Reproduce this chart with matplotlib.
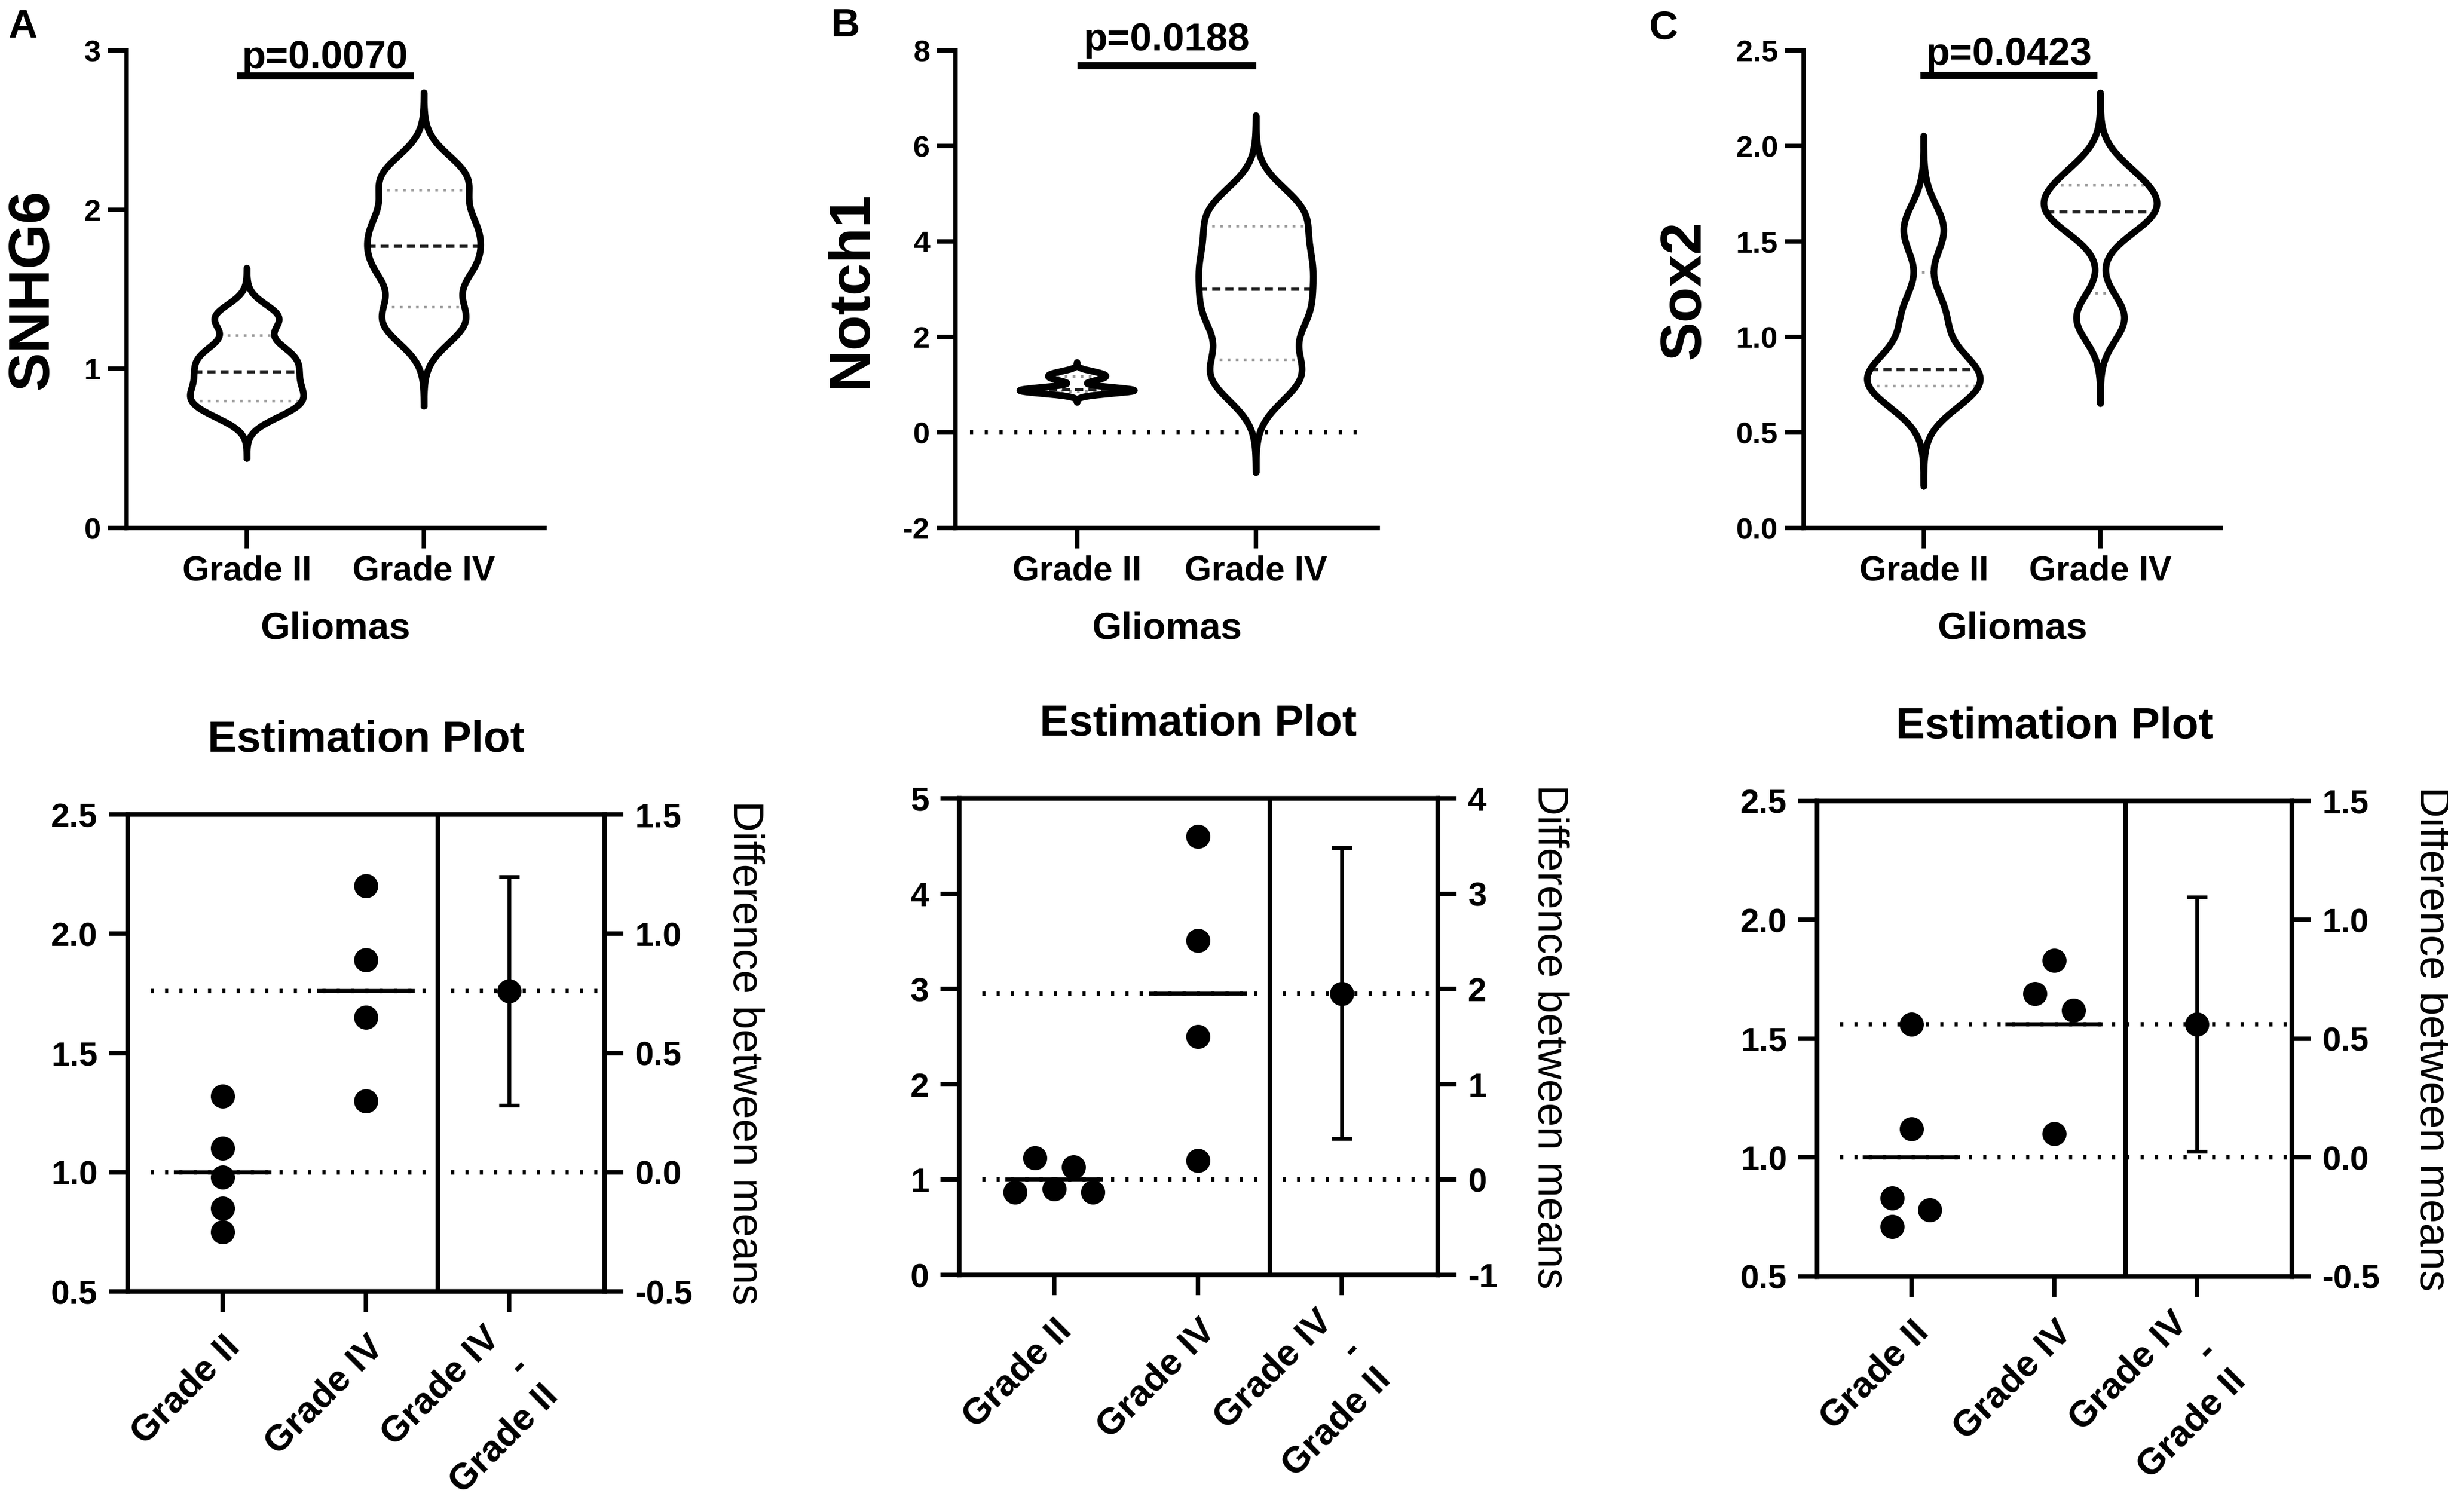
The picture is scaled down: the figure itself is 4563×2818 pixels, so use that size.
import numpy as np
import matplotlib
matplotlib.use("Agg")
import matplotlib.pyplot as plt
from matplotlib import mlab
from matplotlib.ticker import FormatStrFormatter

plt.rcParams['font.family'] = ['Liberation Sans', 'DejaVu Sans']
plt.rcParams['axes.unicode_minus'] = False

GROUPS = ["Grade II", "Grade IV"]
DIFF_LABEL = "Grade IV\n-\nGrade II"
X_TITLE = "Gliomas"
EST_TITLE = "Estimation Plot"
DIFF_TITLE = "Difference between means"
GENES = ["SNHG6", "Notch1", "Sox2"]
P_TEXT = ["p=0.0070", "p=0.0188", "p=0.0423"]
TAGS = ["A", "B", "C"]

# relative expression per sample
snhg6_ii = [1.32, 1.10, 0.98, 0.85, 0.75]
snhg6_iv = [2.20, 1.89, 1.65, 1.30]
notch1_ii = [0.87, 1.23, 0.90, 1.13, 0.87]
notch1_iv = [4.60, 3.51, 2.50, 1.20]
sox2_ii = [1.56, 1.12, 0.83, 0.78, 0.71]
sox2_iv = [1.83, 1.69, 1.62, 1.10]

# 95% CI of the difference between means
ci_low = [0.28, 0.43, 0.025]
ci_high = [1.24, 3.48, 1.095]

violin_yticks = [[0, 1, 2, 3], [-2, 0, 2, 4, 6, 8], [0, 0.5, 1.0, 1.5, 2.0, 2.5]]
est_yticks = [[0.5, 1.0, 1.5, 2.0, 2.5], [0, 1, 2, 3, 4, 5], [0.5, 1.0, 1.5, 2.0, 2.5]]
diff_yticks = [[-0.5, 0, 0.5, 1.0, 1.5], [-1, 0, 1, 2, 3, 4], [-0.5, 0, 0.5, 1.0, 1.5]]
top_fmt = ["%.0f", "%.0f", "%.1f"]
bottom_fmt = ["%.1f", "%.0f", "%.1f"]

# horizontal spread of overlapping points (scatter layout)
spread_ii = [[0, 0, 0, 0, 0], [-0.27, -0.135, 0, 0.135, 0.27], [0, 0, -0.133, 0.13, -0.133]]
spread_iv = [[0, 0, 0, 0], [0, 0, 0, 0], [0, -0.136, 0.136, 0]]

data_ii = [snhg6_ii, notch1_ii, sox2_ii]
data_iv = [snhg6_iv, notch1_iv, sox2_iv]

# layout (figure fractions)
top_x = [(0.0517, 0.1707), (0.3903, 0.1725), (0.7368, 0.1703)]
TOP_Y = (0.6508, 0.3158)
bottom_rect = [(0.0522, 0.1458, 0.1948, 0.3155),
               (0.3918, 0.1568, 0.1955, 0.3152),
               (0.7423, 0.1558, 0.1939, 0.3144)]
tag_pos = [(0.0033, 0.975), (0.3395, 0.9759), (0.6737, 0.9744)]
bar_span = [(-0.06, 0.94), (0.0, 1.0), (-0.02, 0.98)]
bar_y = [0.947, 0.969, 0.948]
ptext_y = [0.963, 1.0, 0.970]

BW = 0.38
CUT = 3.7
HALF_W = 0.32
LW_AX = 2.0


def draw_violin(ax, values, pos):
    values = np.asarray(values, dtype=float)
    kde = mlab.GaussianKDE(values, bw_method=BW)
    h = kde.factor * values.std(ddof=1)
    ys = np.linspace(values.min() - CUT * h, values.max() + CUT * h, 600)
    dens = kde.evaluate(ys)
    w = dens / dens.max() * HALF_W
    ax.fill_betweenx(ys, pos - w, pos + w, color="white", lw=0, zorder=2)
    q1, med, q3 = np.percentile(values, [25, 50, 75], method="weibull")
    for q, col, ls, lw in [(q1, "#9a9a9a", (0, (1, 2)), 1.2),
                           (q3, "#9a9a9a", (0, (1, 2)), 1.2),
                           (med, "#222222", (0, (2.6, 1.6)), 1.4)]:
        hw = np.interp(q, ys, w)
        ax.plot([pos - hw, pos + hw], [q, q], color=col, ls=ls, lw=lw, zorder=3)
    ox = np.concatenate([pos + w, (pos - w)[::-1], [pos + w[0]]])
    oy = np.concatenate([ys, ys[::-1], [ys[0]]])
    ax.plot(ox, oy, color="black", lw=3.0, solid_joinstyle="round",
            solid_capstyle="round", zorder=4)


fig = plt.figure(figsize=(4563 / 300, 2818 / 300), dpi=300)

for i in range(3):
    # ---- violin panel
    ax = fig.add_axes([top_x[i][0], TOP_Y[0], top_x[i][1], TOP_Y[1]])
    draw_violin(ax, data_ii[i], 0)
    draw_violin(ax, data_iv[i], 1)
    yt = violin_yticks[i]
    ax.set_ylim(yt[0], yt[-1])
    ax.set_xlim(-0.68, 1.68)
    if yt[0] < 0:
        ax.hlines(0, -0.6, 1.62, colors="black", lw=2.0,
                  linestyles=(0, (0.7, 2.6)), zorder=1)
    ax.set_yticks(yt)
    ax.yaxis.set_major_formatter(FormatStrFormatter(top_fmt[i]))
    ax.set_xticks([0, 1])
    ax.set_xticklabels(GROUPS)
    for s in ["top", "right"]:
        ax.spines[s].set_visible(False)
    for s in ["left", "bottom"]:
        ax.spines[s].set_linewidth(LW_AX)
    ax.tick_params(axis="y", direction="out", length=8.5, width=LW_AX, pad=3,
                   labelsize=13.5)
    ax.tick_params(axis="x", direction="out", length=9, width=LW_AX, pad=3,
                   labelsize=15.5)
    for t in ax.get_xticklabels() + ax.get_yticklabels():
        t.set_fontweight("bold")
    ax.set_ylabel(GENES[i], fontsize=26, fontweight="bold", labelpad=11)
    ax.set_xlabel(X_TITLE, fontsize=17, fontweight="bold", labelpad=11)

    tr = ax.get_xaxis_transform()
    ax.plot(bar_span[i], [bar_y[i], bar_y[i]], color="black", lw=3.2,
            solid_capstyle="butt", transform=tr, clip_on=False)
    ax.text(sum(bar_span[i]) / 2, ptext_y[i], P_TEXT[i], transform=tr,
            ha="center", va="baseline", fontsize=17.5, fontweight="bold")
    fig.text(tag_pos[i][0], tag_pos[i][1], TAGS[i], fontsize=18,
             fontweight="bold", ha="left", va="baseline")

    # ---- estimation panel
    ex = fig.add_axes(bottom_rect[i])
    tw = ex.twinx()
    ii = np.asarray(data_ii[i])
    iv = np.asarray(data_iv[i])
    m_ii, m_iv = ii.mean(), iv.mean()
    diff = m_iv - m_ii

    ex.set_xlim(-0.66, 2.665)
    ex.set_ylim(est_yticks[i][0], est_yticks[i][-1])
    tw.set_ylim(diff_yticks[i][0], diff_yticks[i][-1])

    ex.hlines([m_ii, m_iv], -0.5, 2.665, colors="black", lw=2.0,
              linestyles=(0, (0.7, 2.5)), zorder=1)
    ex.axvline(1.5, color="black", lw=2.0, zorder=2)
    ex.hlines([m_ii, m_iv], [-0.34, 0.66], [0.34, 1.34], colors="black",
              lw=1.8, zorder=3)
    ex.plot(np.array(spread_ii[i]), ii, "o", ms=9.8, color="black", zorder=4)
    ex.plot(1 + np.array(spread_iv[i]), iv, "o", ms=9.8, color="black", zorder=4)
    tw.errorbar([2], [diff], yerr=[[diff - ci_low[i]], [ci_high[i] - diff]],
                fmt="o", ms=9.8, color="black", ecolor="black", elinewidth=1.7,
                capsize=4.5, capthick=1.7, zorder=4)

    ex.set_yticks(est_yticks[i])
    tw.set_yticks(diff_yticks[i])
    ex.yaxis.set_major_formatter(FormatStrFormatter(bottom_fmt[i]))
    tw.yaxis.set_major_formatter(FormatStrFormatter(bottom_fmt[i]))
    ex.set_xticks([0, 1, 2])
    ex.set_xticklabels(GROUPS + [""], rotation=45, ha="right", va="top",
                       rotation_mode="anchor")
    for a in (ex, tw):
        for s in a.spines.values():
            s.set_linewidth(2.0)
    ex.tick_params(axis="y", direction="out", length=8.5, width=2.0, pad=5,
                   labelsize=15)
    tw.tick_params(axis="y", direction="out", length=8.5, width=2.0, pad=5,
                   labelsize=15)
    ex.tick_params(axis="x", direction="out", length=9, width=2.0, pad=8,
                   labelsize=16.5)
    for t in ex.get_xticklabels() + ex.get_yticklabels() + tw.get_yticklabels():
        t.set_fontweight("bold")
    ex.annotate(DIFF_LABEL, xy=(2, 0), xycoords=("data", "axes fraction"),
                xytext=(-12, -13), textcoords="offset points", rotation=45,
                ha="right", va="top", rotation_mode="anchor",
                multialignment="right", linespacing=1.25, fontsize=16.5,
                fontweight="bold", annotation_clip=False)
    ex.set_title(EST_TITLE, fontsize=19.5, fontweight="bold", pad=28)
    tw.set_ylabel(DIFF_TITLE, fontsize=19, rotation=270, va="bottom",
                  labelpad=14)

fig.savefig("out.png", dpi=300)
